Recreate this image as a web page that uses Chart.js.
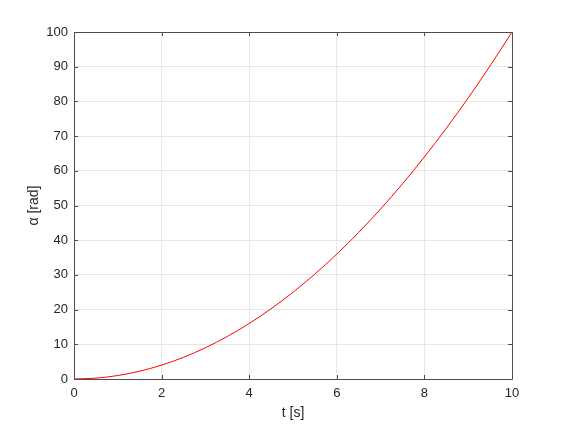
<!DOCTYPE html>
<html>
<head>
<meta charset="utf-8">
<script src="https://cdn.jsdelivr.net/npm/chart.js@4"></script>
<style>
html,body{margin:0;padding:0;background:#fff;}
#c{display:block;}
</style>
</head>
<body>
<canvas id="c" width="566" height="426"></canvas>
<script>
const tValues = [0,0.5,1,1.5,2,2.5,3,3.5,4,4.5,5,5.5,6,6.5,7,7.5,8,8.5,9,9.5,10];
const alphaValues = [0,0.25,1,2.25,4,6.25,9,12.25,16,20.25,25,30.25,36,42.25,49,56.25,64,72.25,81,90.25,100];
const xTicks = [0,2,4,6,8,10];
const yTicks = [0,10,20,30,40,50,60,70,80,90,100];
const xLabel = 't [s]';
const yLabel = 'α [rad]';

const axisColor = '#4d4d4d';
const textColor = '#262626';
const gridColor = '#e8e8e8';

const boxPlugin = {
  id: 'box',
  afterDatasetsDraw(chart) {
    const ctx = chart.ctx, a = chart.chartArea;
    const xs = chart.scales.x, ys = chart.scales.y;
    ctx.save();
    ctx.strokeStyle = axisColor;
    ctx.lineWidth = 1;
    ctx.beginPath();
    ctx.rect(Math.round(a.left)+0.5, Math.round(a.top)+0.5, Math.round(a.right-a.left), Math.round(a.bottom-a.top));
    ctx.stroke();
    const L = 4;
    ctx.beginPath();
    xTicks.forEach(v => {
      const px = Math.round(xs.getPixelForValue(v)) + 0.5;
      ctx.moveTo(px, a.bottom); ctx.lineTo(px, a.bottom - L);
      ctx.moveTo(px, a.top); ctx.lineTo(px, a.top + L);
    });
    yTicks.forEach(v => {
      const py = Math.round(ys.getPixelForValue(v)) + 0.5;
      ctx.moveTo(a.left, py); ctx.lineTo(a.left + L, py);
      ctx.moveTo(a.right, py); ctx.lineTo(a.right - L, py);
    });
    ctx.stroke();
    ctx.restore();
  }
};

new Chart(document.getElementById('c'), {
  type: 'line',
  data: {
    datasets: [{
      data: tValues.map((t, i) => ({x: t, y: alphaValues[i]})),
      borderColor: '#ff0000',
      borderWidth: 1,
      pointRadius: 0,
      cubicInterpolationMode: 'monotone',
      fill: false
    }]
  },
  plugins: [boxPlugin],
  options: {
    responsive: false,
    animation: false,
    events: [],
    layout: { padding: { top: 32, right: 54, left: 0, bottom: 0 } },
    plugins: { legend: { display: false }, tooltip: { enabled: false } },
    scales: {
      x: {
        type: 'linear', min: 0, max: 10,
        afterBuildTicks: s => { s.ticks = xTicks.map(v => ({value: v})); },
        afterFit: s => { s.height = 47; },
        grid: { color: gridColor, drawTicks: false },
        border: { display: false },
        ticks: { color: textColor, padding: 7, font: { family: 'Liberation Sans, Arial, sans-serif', size: 13 }, maxRotation: 0 },
        title: { display: true, text: xLabel, color: textColor, padding: { top: 0, bottom: 4 }, font: { family: 'Liberation Sans, Arial, sans-serif', size: 14 } }
      },
      y: {
        type: 'linear', min: 0, max: 100,
        afterBuildTicks: s => { s.ticks = yTicks.map(v => ({value: v})); },
        afterFit: s => { s.width = 74; },
        grid: { color: gridColor, drawTicks: false },
        border: { display: false },
        ticks: { color: textColor, padding: 6, font: { family: 'Liberation Sans, Arial, sans-serif', size: 13 } },
        title: { display: true, text: yLabel, color: textColor, padding: { top: 26, bottom: 0 }, font: { family: 'Liberation Sans, Arial, sans-serif', size: 14 } }
      }
    }
  }
});
</script>
</body>
</html>
